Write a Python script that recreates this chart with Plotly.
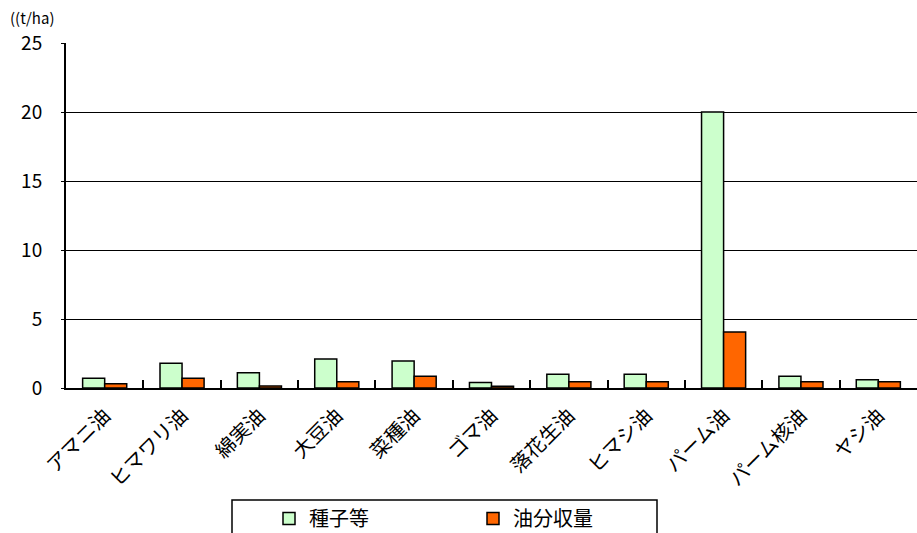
import plotly.graph_objects as go

categories = ["アマニ油", "ヒマワリ油", "綿実油", "大豆油", "菜種油", "ゴマ油",
              "落花生油", "ヒマシ油", "パーム油", "パーム核油", "ヤシ油"]
seed_yield = [0.7, 1.8, 1.1, 2.1, 1.95, 0.4, 1.0, 1.0, 20.0, 0.85, 0.6]
oil_yield = [0.3, 0.7, 0.15, 0.45, 0.85, 0.12, 0.45, 0.45, 4.05, 0.45, 0.45]
y_ticks = [0, 5, 10, 15, 20, 25]
series_names = ["種子等", "油分収量"]
unit_label = "((t/ha)"

FONT = "Noto Sans CJK JP"
PW, PH = 851, 345  # plot area size in px

fig = go.Figure()
fig.add_trace(go.Bar(x=categories, y=seed_yield, name=series_names[0],
                     marker=dict(color="#CCFFCC", line=dict(color="black", width=1.5))))
fig.add_trace(go.Bar(x=categories, y=oil_yield, name=series_names[1],
                     marker=dict(color="#FF6600", line=dict(color="black", width=1.5))))

fig.update_layout(
    width=917, height=533,
    margin=dict(l=66, r=0, t=43, b=145, autoexpand=False),
    paper_bgcolor="white", plot_bgcolor="white",
    font=dict(family=FONT, color="black", size=18),
    barmode="group", bargap=0.43, bargroupgap=0.0,
    showlegend=True,
    legend=dict(orientation="h", x=(269 - 66) / PW, xanchor="left",
                y=-(499 - 388) / PH, yanchor="top",
                borderwidth=0, bgcolor="rgba(0,0,0,0)",
                font=dict(size=20, family=FONT),
                entrywidth=159, itemwidth=30, traceorder="normal"),
    xaxis=dict(showline=True, linecolor="black", linewidth=2, automargin=False,
               ticks="inside", ticklen=8, tickcolor="black", tickwidth=2,
               tickson="boundaries", tickangle=-45, ticklabelstandoff=6,
               tickfont=dict(size=20, family=FONT), showgrid=False),
    yaxis=dict(range=[0, 25], tickvals=y_ticks, showline=True, linecolor="black", linewidth=2,
               automargin=False,
               ticks="outside", ticklen=3, tickcolor="black",
               showgrid=True, gridcolor="black", gridwidth=1.2,
               tickfont=dict(size=19, family=FONT), ticklabelstandoff=15, zeroline=False),
    shapes=[dict(type="rect", xref="paper", yref="paper",
                 x0=(232 - 66) / PW, x1=(657 - 66) / PW,
                 y0=-(500 - 388) / PH, y1=-(560 - 388) / PH,
                 line=dict(color="black", width=1.5), fillcolor="rgba(0,0,0,0)")],
    annotations=[dict(text=unit_label, xref="paper", yref="paper",
                      x=-58 / PW, y=1 + 26 / PH, xanchor="left", yanchor="middle",
                      showarrow=False, font=dict(size=15, family=FONT))],
)

fig.write_html("out.html")
